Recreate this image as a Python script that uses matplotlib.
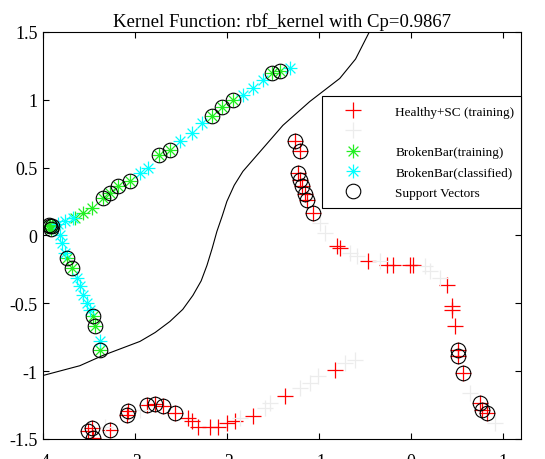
import numpy as np
import matplotlib
matplotlib.use('Agg')
import matplotlib.pyplot as plt
from matplotlib.path import Path

plt.rcParams['font.family'] = ['Liberation Serif', 'DejaVu Serif']
plt.rcParams['axes.unicode_minus'] = False

# Healthy+SC training samples (flag = support vector)
red_x = [-1.261, -1.207, -1.228, -1.207, -1.185, -1.152, -1.130, -1.065,
         -0.804, -0.772, -0.467, -0.261, -0.196, 0.022, -0.011,
         0.391, 0.446, 0.446, 0.478,
         0.511, 0.511, 0.565, 0.750, 0.772, 0.826,
         -3.511, -3.457, -3.467, -3.272, -3.087, -3.076, -2.870, -2.783, -2.696, -2.565,
         -2.424, -2.380, -2.315, -2.185, -2.098, -2.000, -1.913, -1.717, -1.370, -0.826]
red_y = [0.693, 0.619, 0.457, 0.405, 0.361, 0.309, 0.258, 0.162,
         -0.081, -0.096, -0.192, -0.221, -0.221, -0.221, -0.221,
         -0.368, -0.523, -0.553, -0.671,
         -0.847, -0.892, -1.017, -1.238, -1.290, -1.312,
         -1.444, -1.496, -1.422, -1.437, -1.326, -1.297, -1.253, -1.245, -1.260, -1.312,
         -1.349, -1.371, -1.408, -1.408, -1.408, -1.385, -1.371, -1.334, -1.186, -0.995]
red_sv = [1, 1, 1, 1, 1, 1, 1, 1,
          0, 0, 0, 0, 0, 0, 0,
          0, 0, 0, 0,
          1, 1, 1, 1, 1, 1,
          1, 1, 1, 1, 1, 1, 1, 1, 1, 1,
          0, 0, 0, 0, 0, 0, 0, 0, 0, 0]

# Healthy+SC classified samples
gray_x = [-0.989, -0.935, -0.663, -0.587, -0.337, 0.152, 0.207, 0.315,
          0.641, 0.913, -1.207, -1.098, -1.011, -0.717, -0.609,
          -1.587, -1.533, -1.859, -3.326, -2.946]
gray_y = [0.088, 0.015, -0.133, -0.155, -0.192, -0.228, -0.265, -0.317,
          -1.164, -1.385, -1.127, -1.091, -1.039, -0.943, -0.921,
          -1.275, -1.238, -1.349, -1.408, -1.290]

# BrokenBar training samples (flag = support vector)
green_x = [-3.924, -3.935, -3.910, -3.900, -3.650, -3.565, -3.467,
           -3.348, -3.272, -3.185, -3.054, -2.739, -2.620,
           -2.163, -2.054, -1.935, -1.511, -1.424,
           -3.739, -3.685, -3.457, -3.435, -3.380]
green_y = [0.066, 0.080, 0.050, 0.070, 0.130, 0.169, 0.199,
           0.273, 0.310, 0.361, 0.398, 0.590, 0.626,
           0.877, 0.943, 0.995, 1.194, 1.209,
           -0.169, -0.243, -0.597, -0.671, -0.847]
green_sv = [1, 1, 1, 1, 0, 0, 0,
            1, 1, 1, 1, 1, 1,
            1, 1, 1, 1, 1,
            1, 1, 1, 1, 1]

# BrokenBar classified samples
cyan_x = [-3.837, -3.761, -3.674, -2.946, -2.859, -2.511, -2.380, -2.272,
          -1.826, -1.717, -1.609, -1.315,
          -3.815, -3.793, -3.761, -3.630, -3.598, -3.565, -3.522, -3.489, -3.380]
cyan_y = [0.081, 0.103, 0.125, 0.457, 0.494, 0.693, 0.752, 0.825,
          1.032, 1.083, 1.142, 1.231,
          0.000, -0.059, -0.133, -0.317, -0.376, -0.442, -0.501, -0.553, -0.781]

# decision boundary
bound_x = [-4.0, -3.60, -3.348, -2.946, -2.780, -2.620, -2.480, -2.370, -2.280,
           -2.217, -2.160, -2.109, -2.050, -2.0, -1.920, -1.826, -1.609,
           -1.391, -1.098, -0.772, -0.600, -0.450]
bound_y = [-1.032, -0.960, -0.884, -0.781, -0.715, -0.634, -0.545, -0.442, -0.335,
           -0.221, -0.095, 0.029, 0.145, 0.251, 0.370, 0.472, 0.641,
           0.811, 0.987, 1.157, 1.300, 1.500]

red_x, red_y, red_sv = np.array(red_x), np.array(red_y), np.array(red_sv, bool)
green_x, green_y, green_sv = np.array(green_x), np.array(green_y), np.array(green_sv, bool)

# eight-armed asterisk marker
star = Path([(-1, 0), (1, 0), (0, -1), (0, 1),
             (-0.707, -0.707), (0.707, 0.707), (-0.707, 0.707), (0.707, -0.707)],
            [Path.MOVETO, Path.LINETO] * 4)

fig = plt.figure(figsize=(5.45, 4.6), dpi=100)
ax = fig.add_axes([0.079, 0.0435, 0.877, 0.885])

ax.plot(red_x, red_y, '+', color='red', ms=11, mew=0.9, label='Healthy+SC (training)')
ax.plot(gray_x, gray_y, '+', color='#ececec', ms=11, mew=0.9, label=' ')
ax.plot(green_x, green_y, ls='none', marker=star, color='#22ee22', mfc='none',
        ms=10, mew=0.9, label='BrokenBar(training)')
ax.plot(cyan_x, cyan_y, ls='none', marker=star, color='cyan', mfc='none',
        ms=10, mew=0.9, label='BrokenBar(classified)')
sv_x = np.concatenate([red_x[red_sv], green_x[green_sv]])
sv_y = np.concatenate([red_y[red_sv], green_y[green_sv]])
ax.plot(sv_x, sv_y, 'o', mfc='none', mec='black', ms=10.5, mew=0.8, label='Support Vectors')
ax.plot(bound_x, bound_y, '-', color='black', lw=0.8)

ax.set_xlim(-4, 1.2)
ax.set_ylim(-1.5, 1.5)
ax.set_xticks([-4, -3, -2, -1, 0, 1])
ax.set_yticks([-1.5, -1, -0.5, 0, 0.5, 1, 1.5])
ax.set_yticklabels(['-1.5', '-1', '-0.5', '0', '0.5', '1', '1.5'])
ax.set_xticklabels(['-4', '-3', '-2', '-1', '0', '1'])
ax.tick_params(direction='in', top=True, right=True, length=4, width=0.8,
               labelsize=13)
ax.tick_params(axis='x', pad=10)
ax.tick_params(axis='y', pad=4)
for s in ax.spines.values():
    s.set_linewidth(0.8)

ax.set_title('Kernel Function: rbf_kernel with Cp=0.9867', fontsize=13.5, pad=4)

leg = ax.legend(loc='upper left', bbox_to_anchor=(0.584, 0.572, 0.416, 0.271),
                mode='expand', fontsize=9.5, fancybox=False, edgecolor='black',
                framealpha=1, borderaxespad=0, handletextpad=1.6,
                labelspacing=0.6, borderpad=0.75, handlelength=3.2)
leg.get_frame().set_linewidth(0.8)

fig.savefig('out.png', dpi=100)
